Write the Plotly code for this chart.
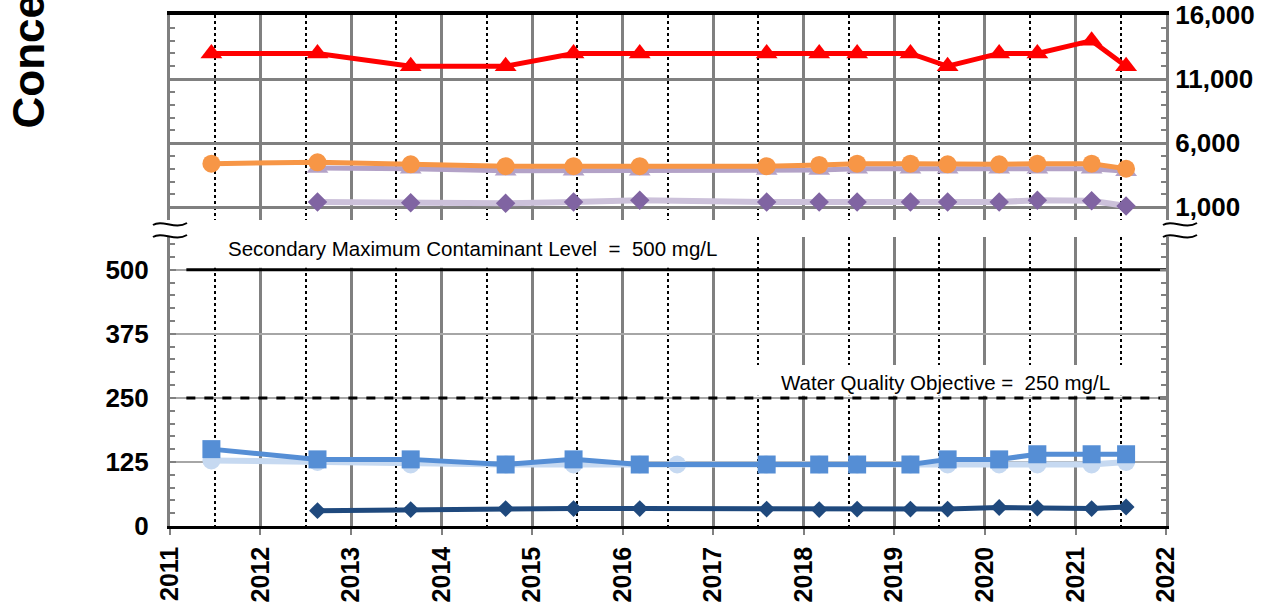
import plotly.graph_objects as go

# sampling dates
dates = ['2011-06-17', '2012-08-18', '2013-08-29', '2014-09-16', '2015-06-17',
         '2016-03-10', '2017-08-04', '2018-03-04', '2018-08-04', '2019-03-07',
         '2019-08-04', '2020-02-28', '2020-07-31', '2021-03-07', '2021-07-24']
dates_late = dates[1:]
dates_circle = dates[:6] + ['2016-08-08'] + dates[6:]

# upper panel (mg/L)
red_tri = [13000, 13000, 12000, 12000, 13000, 13000, 13000, 13000, 13000, 13000,
           12000, 13000, 13000, 14000, 12000]
orange_circ = [4400, 4500, 4350, 4200, 4200, 4200, 4200, 4300, 4400, 4400,
               4350, 4350, 4400, 4400, 4000]
lilac_tri = [4050, 4000, 3850, 3850, 3850, 3900, 3900, 4000, 4000, 4000,
             4000, 4000, 4000, 3800]
purple_dia = [1400, 1350, 1300, 1400, 1550, 1400, 1400, 1400, 1400, 1400,
              1400, 1550, 1500, 1100]

# lower panel (mg/L)
pale_circ = [128, 125, 120, 120, 120, 120, 120, 120, 120, 120, 120, 120, 120,
             120, 120, 125]
blue_sq = [150, 130, 130, 120, 130, 120, 120, 120, 120, 120, 130, 130, 140, 140, 140]
navy_dia = [30, 32, 34, 34, 34, 33, 32, 33, 33, 33, 36, 35, 34, 37]

smcl = 500
wqo = 250
limit_x = ['2011-03-08', '2022-01-01']

W, H = 1281, 604
L, R, T, B = 170, 115, 15, 78
FONT = 'Liberation Sans, Arial, sans-serif'


def px(x, y):
    # pixel -> paper coordinates (for decorations only)
    return (x - L) / (W - L - R), (H - B - y) / (H - T - B)


def squiggle(x0, y0):
    pts = [(x0, y0 + 1), (x0 + 9, y0 - 5), (x0 + 22, y0 + 6), (x0 + 34, y0 - 1)]
    p = [px(*q) for q in pts]
    return 'M {} {} C {} {}, {} {}, {} {}'.format(
        p[0][0], p[0][1], p[1][0], p[1][1], p[2][0], p[2][1], p[3][0], p[3][1])


fig = go.Figure()

# upper panel
fig.add_trace(go.Scatter(x=dates_late, y=purple_dia, mode='lines+markers', xaxis='x2', yaxis='y2',
                         line=dict(color='#ccc1da', width=6),
                         marker=dict(symbol='diamond', size=15, color='#8064a2')))
fig.add_trace(go.Scatter(x=dates_late, y=lilac_tri, mode='lines+markers', xaxis='x2', yaxis='y2',
                         line=dict(color='#b3a2c7', width=5),
                         marker=dict(symbol='triangle-up', size=19, color='#b3a2c7')))
fig.add_trace(go.Scatter(x=dates, y=orange_circ, mode='lines+markers', xaxis='x2', yaxis='y2',
                         line=dict(color='#f79646', width=5),
                         marker=dict(symbol='circle', size=18, color='#f79646')))
fig.add_trace(go.Scatter(x=dates, y=red_tri, mode='lines+markers', xaxis='x2', yaxis='y2',
                         line=dict(color='#ff0000', width=5),
                         marker=dict(symbol='triangle-up', size=19, color='#ff0000')))

# lower panel
fig.add_trace(go.Scatter(x=limit_x, y=[smcl, smcl], mode='lines',
                         line=dict(color='black', width=3)))
fig.add_trace(go.Scatter(x=limit_x, y=[wqo, wqo], mode='lines',
                         line=dict(color='black', width=3, dash='dash')))
fig.add_trace(go.Scatter(x=dates_circle, y=pale_circ, mode='lines+markers',
                         line=dict(color='#c6d9f1', width=6),
                         marker=dict(symbol='circle', size=18, color='#c6d9f1')))
fig.add_trace(go.Scatter(x=dates, y=blue_sq, mode='lines+markers',
                         line=dict(color='#558ed5', width=5),
                         marker=dict(symbol='square', size=18, color='#558ed5')))
fig.add_trace(go.Scatter(x=dates_late, y=navy_dia, mode='lines+markers',
                         line=dict(color='#1f497d', width=5),
                         marker=dict(symbol='diamond', size=13, color='#1f497d')))

grid_x = dict(showgrid=True, gridcolor='#808080', gridwidth=2.5,
              minor=dict(tick0='2011-07-02', dtick='M12', showgrid=True,
                         gridcolor='black', griddash='dot', gridwidth=1.5, ticks=''))
xrange = ['2011-01-01', '2022-01-01']
xfont = dict(family=FONT, size=25, color='black', weight='bold')
yfont = dict(family=FONT, size=26, color='black', weight='bold')

fig.update_layout(
    width=W, height=H,
    margin=dict(l=L, r=R, t=T, b=B),
    paper_bgcolor='white', plot_bgcolor='white',
    showlegend=False,
    xaxis=dict(type='date', range=xrange, tick0='2011-01-01', dtick='M12', tickformat='%Y',
               tickangle=-90, tickfont=xfont, ticks='outside', ticklen=6, tickwidth=2,
               tickcolor='#808080', showline=True, linecolor='black', linewidth=2.5,
               anchor='y', zeroline=False, ticklabelstandoff=2, automargin=False, **grid_x),
    yaxis=dict(domain=[0, 0.5656], range=[0, 564], tick0=0, dtick=125, tickfont=yfont,
               showgrid=True, gridcolor='#a6a6a6', gridwidth=2, zeroline=False,
               showline=True, linecolor='#808080', linewidth=3, mirror='allticks',
               ticks='inside', ticklen=6, tickwidth=1.5, tickcolor='#808080',
               ticklabelstandoff=13, automargin=False,
               minor=dict(dtick=25, ticks='inside', ticklen=5, tickcolor='#808080',
                          tickwidth=1.5, showgrid=False),
               anchor='x'),
    xaxis2=dict(type='date', range=xrange, matches='x', tick0='2011-01-01', dtick='M12',
                anchor='y2', side='top', showticklabels=False, ticks='', automargin=False,
                showline=True, linecolor='black', linewidth=3.5, zeroline=False, **grid_x),
    yaxis2=dict(domain=[0.5988, 1], range=[0, 16000], tick0=1000, dtick=5000,
                tickformat=',d', side='right', tickfont=yfont,
                showgrid=True, gridcolor='#808080', gridwidth=2.5, zeroline=False,
                showline=True, linecolor='#808080', linewidth=3, mirror='allticks',
                ticks='inside', ticklen=6, tickwidth=1.5, tickcolor='#808080',
                ticklabelstandoff=1, automargin=False,
                minor=dict(dtick=1000, ticks='inside', ticklen=5, tickcolor='#808080',
                           tickwidth=1.5, showgrid=False),
                anchor='x2'),
)

# white boxes behind the limit labels
fig.add_shape(type='rect', xref='x', yref='y', layer='between',
              x0='2011-03-08', x1='2017-03-10', y0=smcl + 4, y1=564,
              fillcolor='white', line=dict(width=0))
fig.add_shape(type='rect', xref='x', yref='y', layer='between',
              x0='2017-04-20', x1='2021-12-20', y0=wqo + 4, y1=314,
              fillcolor='white', line=dict(width=0))

# axis break marks
for x0 in (153, 1163):
    for y0 in (224, 236):
        fig.add_shape(type='path', xref='paper', yref='paper', path=squiggle(x0, y0),
                      line=dict(color='black', width=2))

label_font = dict(family=FONT, size=20.5, color='black')
ax, ay = px(226, 248)
fig.add_annotation(xref='paper', yref='paper', x=ax, y=ay, xanchor='left', yanchor='middle',
                   text='Secondary Maximum Contaminant Level \u00a0=\u00a0 500 mg/L',
                   showarrow=False, font=label_font)
ax, ay = px(779, 382)
fig.add_annotation(xref='paper', yref='paper', x=ax, y=ay, xanchor='left', yanchor='middle',
                   text='Water Quality Objective =\u00a0 250 mg/L',
                   showarrow=False, font=label_font)

ax, ay = px(28, 131)
fig.add_annotation(xref='paper', yref='paper', x=ax, y=ay, xanchor='center', yanchor='bottom',
                   text='Concentration (mg/L)', textangle=-90, showarrow=False,
                   font=dict(family=FONT, size=44, color='black', weight='bold'))

fig.write_html("out.html", config={'displayModeBar': False},
               post_script="document.body.style.margin='0';"
                           "document.body.style.overflow='hidden';")
